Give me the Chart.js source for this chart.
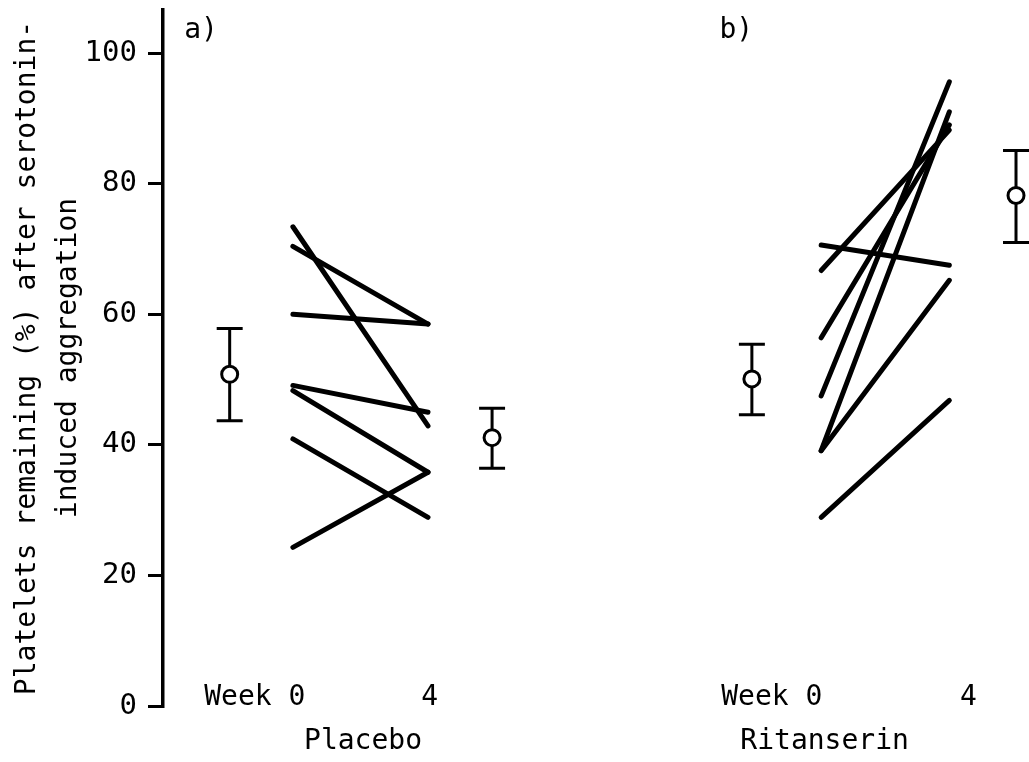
<!DOCTYPE html>
<html>
<head>
<meta charset="utf-8">
<title>Platelet aggregation: placebo vs ritanserin</title>
<script src="https://cdn.jsdelivr.net/npm/chart.js@4.4.1/dist/chart.umd.min.js"></script>
<style>
  body { margin: 0; background: #fff; }
  canvas { display: block; }
</style>
</head>
<body>
<canvas id="chart" width="1029" height="762"></canvas>
<script>
// individual subjects, % platelets remaining at week 0 and week 4
const placeboWeek0 = [73.4, 70.4, 60.0, 49.1, 48.3, 24.3, 40.9];
const placeboWeek4 = [42.9, 58.5, 58.5, 45.0, 35.8, 35.8, 28.9];
const ritanserinWeek0 = [70.6, 66.7, 56.4, 47.5, 39.1, 39.1, 28.9];
const ritanserinWeek4 = [67.5, 88.2, 89.0, 95.6, 91.0, 65.2, 46.8];

// group means (week 0, week 4) and the two ends of each error bar
const placeboMean = [50.8, 41.1];
const placeboHigh = [57.8, 45.6];
const placeboLow = [43.7, 36.4];
const ritanserinMean = [50.1, 78.2];
const ritanserinHigh = [55.4, 85.1];
const ritanserinLow = [44.6, 71.0];

const yTicks = [0, 20, 40, 60, 80, 100];
const weekLabels = ['Week 0', '4', 'Week 0', '4'];
const groupLabels = ['Placebo', 'Ritanserin'];
const panelLabels = ['a)', 'b)'];

// horizontal layout, on a 0-100 x scale
const X = {
  placebo: { mean0: 7.7, week0: 15.0, week4: 30.6, mean4: 38.0 },
  ritanserin: { mean0: 68.0, week0: 76.0, week4: 90.8, mean4: 98.5 }
};
const weekTickX = [10.6, 30.8, 70.3, 93.0];
const groupTickX = [23.1, 76.4];
const panelX = [4.4, 66.2];
const panelY = 103.5;
const CAP = 1.5;
const FONT = "'DejaVu Sans Mono', monospace";

function subjectLines(w0, w4, pos){
  return w0.map((v, i) => ({
    data: [{x: pos.week0, y: v}, {x: pos.week4, y: w4[i]}],
    borderColor: '#000', borderWidth: 5, borderCapStyle: 'round',
    pointRadius: 0, clip: false, order: 2
  }));
}

function errorBars(hi, lo, pos){
  const pts = [];
  [pos.mean0, pos.mean4].forEach((x, i) => {
    pts.push(
      {x: x - CAP, y: hi[i]}, {x: x + CAP, y: hi[i]}, {x: x, y: null},
      {x: x, y: hi[i]}, {x: x, y: lo[i]}, {x: x, y: null},
      {x: x - CAP, y: lo[i]}, {x: x + CAP, y: lo[i]}, {x: x, y: null}
    );
  });
  return { data: pts, borderColor: '#000', borderWidth: 3, pointRadius: 0, spanGaps: false, clip: false, order: 1 };
}

function meanMarkers(mean, pos){
  return {
    data: [{x: pos.mean0, y: mean[0]}, {x: pos.mean4, y: mean[1]}],
    showLine: false, pointRadius: 8, pointBorderWidth: 3,
    pointBackgroundColor: '#fff', pointBorderColor: '#000', clip: false, order: 0
  };
}

const panelLetters = {
  id: 'panelLetters',
  afterDraw(chart){
    const {ctx, scales: {x, y}} = chart;
    ctx.save();
    ctx.font = `28px ${FONT}`;
    ctx.fillStyle = '#000';
    ctx.textAlign = 'center';
    ctx.textBaseline = 'middle';
    panelLabels.forEach((t, i) => ctx.fillText(t, x.getPixelForValue(panelX[i]), y.getPixelForValue(panelY)));
    ctx.restore();
  }
};

const bottomAxis = (ticksX, labels, pad) => ({
  type: 'linear', axis: 'x', min: 0, max: 100, position: {y: 0},
  grid: { display: false, drawTicks: false },
  border: { display: false },
  afterBuildTicks: s => { s.ticks = ticksX.map(v => ({value: v})); },
  afterFit: s => { s.paddingLeft = 0; s.paddingRight = 0; },
  ticks: {
    autoSkip: false, maxRotation: 0, minRotation: 0, padding: pad, color: '#000',
    font: { family: FONT, size: 28, lineHeight: 1 },
    callback: (v, i) => labels[i]
  }
});

new Chart(document.getElementById('chart'), {
  type: 'line',
  data: {
    datasets: [
      meanMarkers(placeboMean, X.placebo),
      meanMarkers(ritanserinMean, X.ritanserin),
      errorBars(placeboHigh, placeboLow, X.placebo),
      errorBars(ritanserinHigh, ritanserinLow, X.ritanserin),
      ...subjectLines(placeboWeek0, placeboWeek4, X.placebo),
      ...subjectLines(ritanserinWeek0, ritanserinWeek4, X.ritanserin)
    ]
  },
  options: {
    responsive: false,
    animation: false,
    devicePixelRatio: 1,
    layout: { autoPadding: false, padding: { top: 10, bottom: 56, left: 0, right: 0 } },
    plugins: { legend: { display: false }, tooltip: { enabled: false } },
    scales: {
      x: bottomAxis(weekTickX, weekLabels, -22),
      xGroup: bottomAxis(groupTickX, groupLabels, 22),
      y: {
        type: 'linear', position: 'left', min: 0, max: 106.6,
        afterBuildTicks: s => { s.ticks = yTicks.map(v => ({value: v})); },
        afterFit: s => { s.width = 163; s.paddingTop = 0; s.paddingBottom = 0; },
        grid: { drawOnChartArea: false, tickLength: 15, lineWidth: 3, color: '#000' },
        border: { color: '#000', width: 3.5 },
        ticks: { padding: 11, color: '#000', font: { family: FONT, size: 29 } },
        title: {
          display: true,
          text: ['Platelets remaining (%) after serotonin-', 'induced aggregation'],
          color: '#000',
          font: { family: FONT, size: 28, lineHeight: 41 / 28 },
          padding: { top: 7, bottom: 0 }
        }
      }
    }
  },
  plugins: [panelLetters]
});
</script>
</body>
</html>
